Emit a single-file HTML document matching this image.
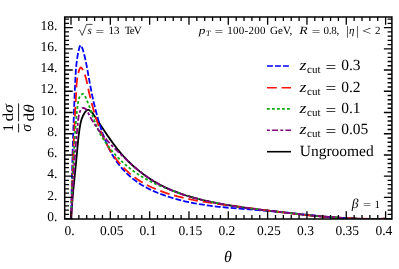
<!DOCTYPE html>
<html><head><meta charset="utf-8"><title>plot</title>
<style>html,body{margin:0;padding:0;background:#fff;}svg{display:block;will-change:transform;}text{text-rendering:geometricPrecision;font-family:"Liberation Serif",serif;fill:#000;}</style>
</head><body>
<svg width="399" height="269" viewBox="0 0 399 269">
<rect x="0" y="0" width="399" height="269" fill="#fff"/>
<defs><clipPath id="cp"><rect x="64.70" y="17.00" width="327.20" height="202.00"/></clipPath></defs>
<g clip-path="url(#cp)" fill="none" stroke-width="1.8" stroke-linejoin="round">
<path d="M71.20,218.70 L71.51,212.66 L71.93,206.25 L73.13,191.94 L76.26,160.60 L78.15,140.09 L78.82,134.10 L79.59,128.58 L80.32,124.31 L81.02,121.25 L81.82,118.61 L82.87,116.01 L84.23,113.46 L84.92,112.38 L85.67,111.37 L86.47,110.54 L87.03,110.15 L87.60,109.91 L88.18,109.86 L88.76,109.97 L89.34,110.21 L90.49,111.01 L91.87,112.36 L93.19,113.99 L94.69,116.14 L103.50,129.53 L108.64,137.13 L113.26,143.62 L117.61,149.32 L121.16,153.61 L124.62,157.48 L128.51,161.51 L132.28,165.11 L134.97,167.51 L137.41,169.59 L140.22,171.86 L142.77,173.82 L145.69,175.94 L148.33,177.76 L153.73,181.19 L156.48,182.80 L159.63,184.53 L162.46,186.00 L165.69,187.56 L171.88,190.31 L178.57,192.92 L182.34,194.25 L186.14,195.51 L189.97,196.68 L194.21,197.90 L202.77,200.10 L211.79,202.11 L222.02,204.10 L232.67,205.91 L244.12,207.62 L257.18,209.33 L277.41,211.72 L304.84,214.77 L320.78,216.34 L334.74,217.49 L341.93,217.97 L348.72,218.35 L355.11,218.63 L361.51,218.83 L367.91,218.94 L373.91,218.95 L379.91,218.88 L386.00,218.70" stroke="#000"/>
<path d="M71.10,218.70 L71.84,181.49 L72.82,145.14 L74.08,108.77 L74.92,88.34 L75.47,76.71 L75.85,70.73 L76.34,65.20 L76.87,60.52 L77.56,55.88 L78.42,51.42 L78.94,49.19 L79.43,47.43 L79.84,46.33 L80.14,45.77 L80.46,45.42 L80.79,45.34 L81.12,45.57 L81.62,46.39 L82.68,49.14 L83.75,52.71 L84.91,57.43 L85.86,61.75 L86.80,66.46 L90.04,84.53 L91.80,93.54 L93.94,103.30 L96.26,112.62 L98.88,121.88 L101.56,130.28 L102.89,134.06 L104.30,137.80 L105.65,141.14 L107.08,144.43 L108.77,148.04 L110.39,151.22 L112.30,154.70 L114.14,157.75 L116.10,160.74 L118.18,163.64 L120.39,166.46 L122.46,168.90 L124.64,171.26 L127.21,173.82 L129.90,176.27 L132.69,178.61 L135.25,180.58 L138.21,182.69 L141.26,184.67 L144.37,186.51 L147.20,188.05 L150.42,189.66 L153.69,191.18 L157.37,192.75 L161.08,194.21 L165.20,195.71 L168.96,196.97 L173.13,198.26 L177.33,199.44 L181.55,200.53 L185.79,201.53 L190.06,202.44 L194.74,203.35 L199.45,204.17 L209.31,205.64 L218.84,206.78 L229.63,207.84 L240.05,208.71 L263.73,210.51 L275.33,211.51 L287.27,212.70 L320.18,216.18 L330.09,217.12 L339.22,217.86 L345.58,218.29 L351.95,218.64 L357.93,218.89 L363.93,219.05 L369.54,219.10 L375.17,219.07 L380.82,218.92 L386.00,218.70" stroke="#0000ff" stroke-dasharray="5.9 2.1"/>
<path d="M71.10,218.70 L72.35,179.56 L73.64,145.08 L75.06,113.52 L76.61,84.58 L76.90,81.01 L77.25,78.18 L77.67,75.70 L78.25,73.17 L79.15,70.13 L79.80,68.51 L80.35,67.69 L80.76,67.45 L80.97,67.44 L81.39,67.67 L81.82,68.16 L82.25,68.84 L83.04,70.33 L84.37,73.36 L85.54,76.78 L86.18,79.07 L86.72,81.37 L89.05,92.57 L90.96,100.32 L92.83,107.29 L94.47,113.07 L95.99,118.04 L97.61,122.98 L100.07,129.74 L102.67,136.02 L104.00,138.93 L105.41,141.81 L108.26,147.11 L110.32,150.57 L112.27,153.62 L114.33,156.60 L116.48,159.50 L118.73,162.32 L121.08,165.05 L123.52,167.68 L126.07,170.21 L128.70,172.62 L131.13,174.67 L133.63,176.63 L136.52,178.71 L139.50,180.68 L142.55,182.54 L145.68,184.29 L148.87,185.94 L152.11,187.49 L155.42,188.95 L158.77,190.31 L162.16,191.59 L165.58,192.80 L169.43,194.04 L173.30,195.19 L177.58,196.37 L181.87,197.45 L186.17,198.45 L195.18,200.29 L204.99,201.98 L216.80,203.73 L266.26,210.34 L280.98,212.23 L300.09,214.44 L308.87,215.34 L317.64,216.16 L326.82,216.92 L336.01,217.57 L344.79,218.07 L353.58,218.46 L361.96,218.71 L369.95,218.83 L377.93,218.83 L386.00,218.70" stroke="#ff1408" stroke-dasharray="9.8 4.8"/>
<path d="M71.10,218.70 L71.50,205.53 L72.03,191.53 L72.68,176.71 L73.45,161.12 L74.23,146.78 L74.89,136.04 L75.60,126.08 L76.36,117.27 L77.05,110.42 L77.62,105.60 L78.29,101.29 L78.79,99.00 L79.17,97.88 L79.50,97.15 L80.12,96.06 L80.65,95.35 L81.23,94.72 L81.85,94.23 L82.46,93.96 L82.75,93.94 L83.03,93.98 L83.55,94.26 L84.26,95.02 L85.29,96.71 L86.35,99.00 L87.80,102.49 L89.13,105.96 L93.69,118.81 L95.48,123.60 L97.44,128.29 L99.49,132.54 L100.81,134.98 L102.22,137.39 L103.71,139.77 L105.50,142.44 L107.14,144.74 L109.09,147.32 L111.11,149.85 L113.19,152.33 L115.88,155.35 L118.38,157.99 L121.24,160.84 L123.89,163.31 L126.92,165.95 L129.71,168.24 L132.56,170.43 L135.46,172.53 L138.43,174.52 L141.45,176.41 L144.51,178.20 L147.98,180.09 L151.49,181.88 L155.06,183.58 L159.04,185.36 L163.07,187.06 L167.53,188.84 L172.03,190.55 L176.57,192.19 L181.15,193.76 L185.76,195.24 L190.40,196.64 L195.05,197.97 L199.71,199.21 L204.38,200.37 L209.45,201.54 L219.62,203.65 L230.61,205.61 L242.42,207.42 L251.50,208.64 L261.39,209.87 L295.18,213.70 L315.12,215.79 L331.50,217.24 L339.09,217.79 L346.28,218.23 L353.48,218.58 L360.27,218.81 L367.06,218.94 L373.45,218.97 L379.83,218.89 L386.00,218.70" stroke="#0cab14" stroke-dasharray="2.8 2.2"/>
<path d="M71.10,218.70 L72.79,187.15 L74.33,163.15 L75.14,152.44 L76.04,141.78 L77.04,131.02 L78.16,120.01 L78.53,117.13 L78.89,115.11 L79.38,113.14 L80.05,111.25 L80.73,109.86 L81.13,109.25 L81.57,108.74 L82.31,108.18 L82.87,107.98 L83.16,107.94 L84.10,108.07 L85.04,108.50 L85.89,109.19 L86.61,110.08 L87.43,111.47 L89.32,115.23 L91.11,118.52 L92.77,121.35 L94.73,124.45 L96.99,127.79 L99.35,131.02 L101.80,134.17 L104.58,137.53 L106.92,140.22 L109.58,143.15 L115.37,149.15 L123.09,156.67 L130.18,163.21 L136.27,168.46 L142.24,173.22 L145.13,175.37 L148.06,177.46 L151.04,179.46 L153.73,181.17 L156.46,182.81 L159.23,184.37 L162.04,185.86 L165.24,187.45 L168.48,188.96 L171.77,190.38 L175.09,191.72 L178.44,192.99 L182.21,194.31 L186.01,195.56 L189.84,196.72 L194.09,197.92 L202.67,200.09 L212.10,202.15 L222.76,204.19 L234.21,206.10 L246.47,207.90 L260.33,209.71 L284.92,212.60 L305.19,214.83 L321.12,216.38 L335.07,217.51 L342.25,217.98 L349.04,218.35 L355.44,218.62 L361.83,218.82 L368.23,218.92 L374.24,218.93 L380.25,218.86 L386.00,218.70" stroke="#800080" stroke-dasharray="2.9 2.2 6 2.2"/>
</g>
<path d="M71.00,219.00v-7.80M71.00,17.00v7.80M78.86,219.00v-3.90M78.86,17.00v3.90M86.73,219.00v-3.90M86.73,17.00v3.90M94.59,219.00v-3.90M94.59,17.00v3.90M102.46,219.00v-3.90M102.46,17.00v3.90M110.33,219.00v-7.80M110.33,17.00v7.80M118.19,219.00v-3.90M118.19,17.00v3.90M126.06,219.00v-3.90M126.06,17.00v3.90M133.92,219.00v-3.90M133.92,17.00v3.90M141.78,219.00v-3.90M141.78,17.00v3.90M149.65,219.00v-7.80M149.65,17.00v7.80M157.51,219.00v-3.90M157.51,17.00v3.90M165.38,219.00v-3.90M165.38,17.00v3.90M173.25,219.00v-3.90M173.25,17.00v3.90M181.11,219.00v-3.90M181.11,17.00v3.90M188.97,219.00v-7.80M188.97,17.00v7.80M196.84,219.00v-3.90M196.84,17.00v3.90M204.71,219.00v-3.90M204.71,17.00v3.90M212.57,219.00v-3.90M212.57,17.00v3.90M220.44,219.00v-3.90M220.44,17.00v3.90M228.30,219.00v-7.80M228.30,17.00v7.80M236.16,219.00v-3.90M236.16,17.00v3.90M244.03,219.00v-3.90M244.03,17.00v3.90M251.90,219.00v-3.90M251.90,17.00v3.90M259.76,219.00v-3.90M259.76,17.00v3.90M267.62,219.00v-7.80M267.62,17.00v7.80M275.49,219.00v-3.90M275.49,17.00v3.90M283.36,219.00v-3.90M283.36,17.00v3.90M291.22,219.00v-3.90M291.22,17.00v3.90M299.08,219.00v-3.90M299.08,17.00v3.90M306.95,219.00v-7.80M306.95,17.00v7.80M314.81,219.00v-3.90M314.81,17.00v3.90M322.68,219.00v-3.90M322.68,17.00v3.90M330.55,219.00v-3.90M330.55,17.00v3.90M338.41,219.00v-3.90M338.41,17.00v3.90M346.28,219.00v-7.80M346.28,17.00v7.80M354.14,219.00v-3.90M354.14,17.00v3.90M362.00,219.00v-3.90M362.00,17.00v3.90M369.87,219.00v-3.90M369.87,17.00v3.90M377.74,219.00v-3.90M377.74,17.00v3.90M385.60,219.00v-7.80M385.60,17.00v7.80M64.70,218.70h8.00M391.90,218.70h-8.00M64.70,214.45h4.30M391.90,214.45h-4.30M64.70,210.20h4.30M391.90,210.20h-4.30M64.70,205.96h4.30M391.90,205.96h-4.30M64.70,201.71h4.30M391.90,201.71h-4.30M64.70,197.46h8.00M391.90,197.46h-8.00M64.70,193.21h4.30M391.90,193.21h-4.30M64.70,188.96h4.30M391.90,188.96h-4.30M64.70,184.72h4.30M391.90,184.72h-4.30M64.70,180.47h4.30M391.90,180.47h-4.30M64.70,176.22h8.00M391.90,176.22h-8.00M64.70,171.97h4.30M391.90,171.97h-4.30M64.70,167.72h4.30M391.90,167.72h-4.30M64.70,163.48h4.30M391.90,163.48h-4.30M64.70,159.23h4.30M391.90,159.23h-4.30M64.70,154.98h8.00M391.90,154.98h-8.00M64.70,150.73h4.30M391.90,150.73h-4.30M64.70,146.48h4.30M391.90,146.48h-4.30M64.70,142.24h4.30M391.90,142.24h-4.30M64.70,137.99h4.30M391.90,137.99h-4.30M64.70,133.74h8.00M391.90,133.74h-8.00M64.70,129.49h4.30M391.90,129.49h-4.30M64.70,125.24h4.30M391.90,125.24h-4.30M64.70,121.00h4.30M391.90,121.00h-4.30M64.70,116.75h4.30M391.90,116.75h-4.30M64.70,112.50h8.00M391.90,112.50h-8.00M64.70,108.25h4.30M391.90,108.25h-4.30M64.70,104.00h4.30M391.90,104.00h-4.30M64.70,99.76h4.30M391.90,99.76h-4.30M64.70,95.51h4.30M391.90,95.51h-4.30M64.70,91.26h8.00M391.90,91.26h-8.00M64.70,87.01h4.30M391.90,87.01h-4.30M64.70,82.76h4.30M391.90,82.76h-4.30M64.70,78.52h4.30M391.90,78.52h-4.30M64.70,74.27h4.30M391.90,74.27h-4.30M64.70,70.02h8.00M391.90,70.02h-8.00M64.70,65.77h4.30M391.90,65.77h-4.30M64.70,61.52h4.30M391.90,61.52h-4.30M64.70,57.28h4.30M391.90,57.28h-4.30M64.70,53.03h4.30M391.90,53.03h-4.30M64.70,48.78h8.00M391.90,48.78h-8.00M64.70,44.53h4.30M391.90,44.53h-4.30M64.70,40.28h4.30M391.90,40.28h-4.30M64.70,36.04h4.30M391.90,36.04h-4.30M64.70,31.79h4.30M391.90,31.79h-4.30M64.70,27.54h8.00M391.90,27.54h-8.00M64.70,23.29h4.30M391.90,23.29h-4.30M64.70,19.04h4.30M391.90,19.04h-4.30" stroke="#000" stroke-width="1.3" fill="none"/>
<rect x="64.70" y="17.00" width="327.20" height="202.00" fill="none" stroke="#000" stroke-width="1.5"/>
<text x="69.65" y="234.8" font-size="13.5" text-anchor="middle">0.</text>
<text x="111.70" y="234.8" font-size="13.5" text-anchor="middle">0.05</text>
<text x="148.00" y="234.8" font-size="13.5" text-anchor="middle">0.1</text>
<text x="190.40" y="234.8" font-size="13.5" text-anchor="middle">0.15</text>
<text x="226.90" y="234.8" font-size="13.5" text-anchor="middle">0.2</text>
<text x="268.90" y="234.8" font-size="13.5" text-anchor="middle">0.25</text>
<text x="305.50" y="234.8" font-size="13.5" text-anchor="middle">0.3</text>
<text x="347.30" y="234.8" font-size="13.5" text-anchor="middle">0.35</text>
<text x="383.90" y="234.8" font-size="13.5" text-anchor="middle">0.4</text>
<text x="57.4" y="220.90" font-size="13.5" text-anchor="end">0.</text>
<text x="57.4" y="199.66" font-size="13.5" text-anchor="end">2.</text>
<text x="57.4" y="178.42" font-size="13.5" text-anchor="end">4.</text>
<text x="57.4" y="157.18" font-size="13.5" text-anchor="end">6.</text>
<text x="57.4" y="135.94" font-size="13.5" text-anchor="end">8.</text>
<text x="57.4" y="114.70" font-size="13.5" text-anchor="end">10.</text>
<text x="57.4" y="93.46" font-size="13.5" text-anchor="end">12.</text>
<text x="57.4" y="72.22" font-size="13.5" text-anchor="end">14.</text>
<text x="57.4" y="50.98" font-size="13.5" text-anchor="end">16.</text>
<text x="57.4" y="29.74" font-size="13.5" text-anchor="end">18.</text>
<text x="228" y="261.5" font-size="16" font-style="italic" text-anchor="middle">&#952;</text>
<path d="M78.3,30.6l1.3,-0.8l2.6,5.6l4.3,-11h6.0" fill="none" stroke="#000" stroke-width="0.7"/>
<text x="87.40" y="34.30" font-size="11" font-style="italic">s</text>
<text x="95.50" y="34.68" font-size="11" textLength="8.60" lengthAdjust="spacingAndGlyphs">=</text>
<text x="108.60" y="34.30" font-size="11">13</text>
<text x="124.80" y="34.30" font-size="11" textLength="17.0" lengthAdjust="spacing">TeV</text>
<text x="198.80" y="34.30" font-size="11" font-style="italic" textLength="6.6" lengthAdjust="spacingAndGlyphs">p</text>
<text x="206.00" y="36.00" font-size="8" font-style="italic">T</text>
<text x="214.70" y="34.68" font-size="11" textLength="8.40" lengthAdjust="spacingAndGlyphs">=</text>
<text x="227.30" y="34.30" font-size="11" textLength="38.3" lengthAdjust="spacing">100-200</text>
<text x="270.00" y="34.30" font-size="11" textLength="22.2" lengthAdjust="spacing">GeV,</text>
<text x="299.30" y="34.30" font-size="11" font-style="italic" textLength="8.4" lengthAdjust="spacingAndGlyphs">R</text>
<text x="311.70" y="34.68" font-size="11" textLength="8.60" lengthAdjust="spacingAndGlyphs">=</text>
<text x="323.60" y="34.30" font-size="11" textLength="15.6" lengthAdjust="spacing">0.8,</text>
<text x="346.00" y="34.90" font-size="13">|</text>
<text x="348.90" y="34.30" font-size="11" font-style="italic">&#951;</text>
<text x="355.90" y="34.90" font-size="13">|</text>
<text x="362.00" y="35.10" font-size="12.5" textLength="9.2" lengthAdjust="spacingAndGlyphs">&lt;</text>
<text x="375.00" y="34.30" font-size="11">2</text>
<text x="351.80" y="207.60" font-size="13.5" font-style="italic">&#946;</text>
<text x="362.90" y="207.77" font-size="11" textLength="8.20" lengthAdjust="spacingAndGlyphs">=</text>
<text x="374.60" y="207.80" font-size="11">1</text>
<g fill="none" stroke-width="1.6">
<path d="M267,66.00H291" stroke="#0000ff" stroke-dasharray="5.9 2.1"/>
<path d="M267,87.75H291" stroke="#ff1408" stroke-dasharray="9.8 4.8"/>
<path d="M267,108.90H291" stroke="#0cab14" stroke-dasharray="2.8 2.2"/>
<path d="M267,130.20H291" stroke="#800080" stroke-dasharray="2.9 2.2 6 2.2"/>
<path d="M267,151.70H291" stroke="#000"/>
</g>
<text x="299.60" y="69.60" font-size="15.5" font-style="italic" textLength="7.0" lengthAdjust="spacingAndGlyphs">z</text>
<text x="307.00" y="72.60" font-size="11">cut</text>
<text x="325.56" y="71.64" font-size="15.5" textLength="10.78" lengthAdjust="spacingAndGlyphs">=</text>
<text x="341.20" y="69.60" font-size="15.5">0.3</text>
<text x="299.60" y="91.65" font-size="15.5" font-style="italic" textLength="7.0" lengthAdjust="spacingAndGlyphs">z</text>
<text x="307.00" y="94.65" font-size="11">cut</text>
<text x="325.56" y="93.39" font-size="15.5" textLength="10.78" lengthAdjust="spacingAndGlyphs">=</text>
<text x="341.20" y="91.65" font-size="15.5">0.2</text>
<text x="299.60" y="112.80" font-size="15.5" font-style="italic" textLength="7.0" lengthAdjust="spacingAndGlyphs">z</text>
<text x="307.00" y="115.80" font-size="11">cut</text>
<text x="325.56" y="114.54" font-size="15.5" textLength="10.78" lengthAdjust="spacingAndGlyphs">=</text>
<text x="341.20" y="112.80" font-size="15.5">0.1</text>
<text x="299.60" y="134.10" font-size="15.5" font-style="italic" textLength="7.0" lengthAdjust="spacingAndGlyphs">z</text>
<text x="307.00" y="137.10" font-size="11">cut</text>
<text x="325.56" y="135.84" font-size="15.5" textLength="10.78" lengthAdjust="spacingAndGlyphs">=</text>
<text x="341.20" y="134.10" font-size="15.5">0.05</text>
<text x="299.70" y="155.70" font-size="15.5">Ungroomed</text>
<g transform="translate(18.6,117.9) rotate(-90)">
<path d="M-14.5,0H-5.6M-3.4,0H14.5" stroke="#000" stroke-width="0.9" fill="none"/>
<text x="-9.9" y="-6" font-size="15" text-anchor="middle">1</text>
<text x="-10.1" y="11.9" font-size="15" text-anchor="middle" font-style="italic">&#963;</text>
<text x="-3.6" y="-6" font-size="15" textLength="17.4" lengthAdjust="spacingAndGlyphs">d<tspan font-style="italic">&#963;</tspan></text>
<text x="-3.6" y="15" font-size="15" textLength="17.2" lengthAdjust="spacingAndGlyphs">d<tspan font-style="italic">&#952;</tspan></text>
</g>
</svg></body></html>
